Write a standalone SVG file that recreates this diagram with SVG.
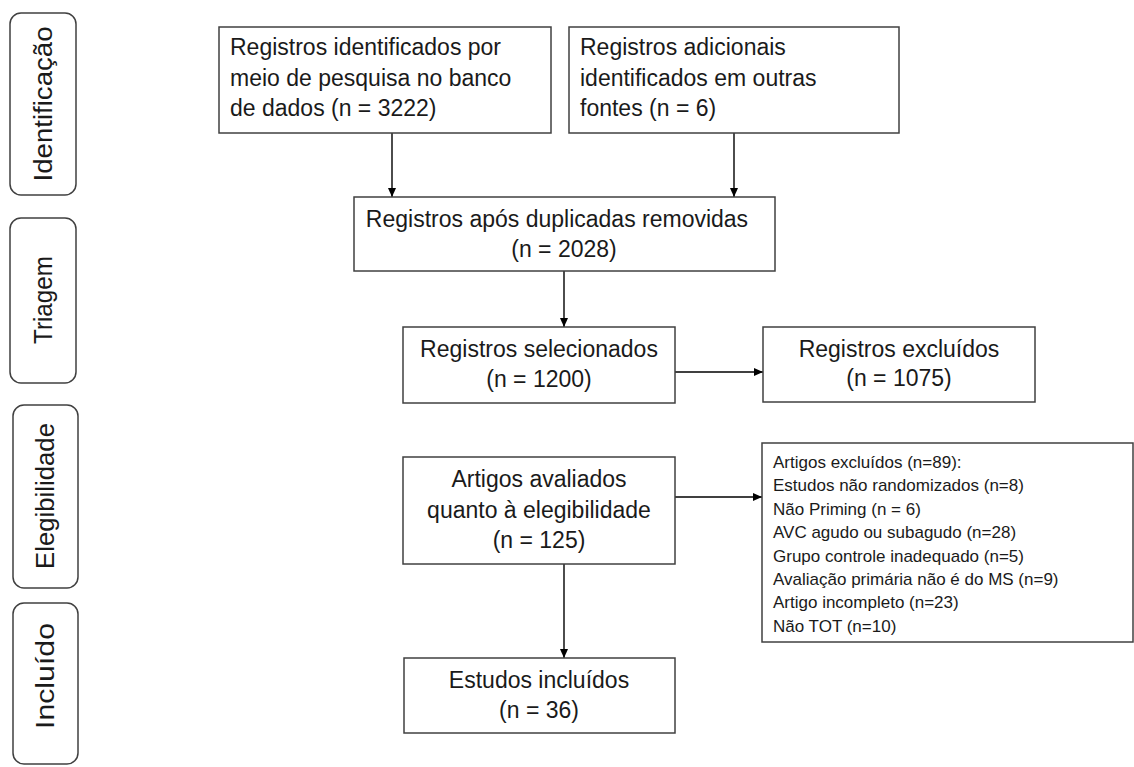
<svg xmlns="http://www.w3.org/2000/svg" width="1134" height="767" viewBox="0 0 1134 767">
<defs>
<marker id="arr" markerWidth="10" markerHeight="10" refX="9" refY="5" orient="auto" markerUnits="userSpaceOnUse">
<path d="M0,1 L9,5 L0,9 Z" fill="#000"/>
</marker>
<style>
.box{fill:#fff;stroke:#404040;stroke-width:1.5}
.side{fill:#fff;stroke:#404040;stroke-width:1.5}
.t{font-family:"Liberation Sans",Arial,sans-serif;font-size:23px;fill:#1a1a1a}
.c{text-anchor:middle}
.s{font-family:"Liberation Sans",Arial,sans-serif;font-size:17px;fill:#1a1a1a}
.lab{font-family:"Liberation Sans",Arial,sans-serif;font-size:26px;fill:#1a1a1a;text-anchor:middle}
.ln{stroke:#000;stroke-width:1.4;fill:none;marker-end:url(#arr)}
</style>
</defs>
<rect width="1134" height="767" fill="#fff"/>

<g id="stage-identificacao">
<rect class="side" x="10" y="13" width="66" height="182" rx="11"/>
<text class="lab" transform="translate(52,104) rotate(-90)" textLength="155" lengthAdjust="spacingAndGlyphs">Identificação</text>
</g>
<g id="stage-triagem">
<rect class="side" x="10" y="218" width="66" height="165" rx="11"/>
<text class="lab" transform="translate(52,300) rotate(-90)" textLength="88" lengthAdjust="spacingAndGlyphs">Triagem</text>
</g>
<g id="stage-elegibilidade">
<rect class="side" x="13" y="405" width="65" height="183" rx="11"/>
<text class="lab" transform="translate(54,496) rotate(-90)" textLength="146" lengthAdjust="spacingAndGlyphs">Elegibilidade</text>
</g>
<g id="stage-incluido">
<rect class="side" x="13" y="603" width="65" height="161" rx="11"/>
<text class="lab" transform="translate(54,676) rotate(-90)" textLength="106" lengthAdjust="spacingAndGlyphs">Incluído</text>
</g>

<g id="connectors">
<line class="ln" x1="392" y1="133" x2="392" y2="197"/>
<line class="ln" x1="734" y1="133" x2="734" y2="197"/>
<line class="ln" x1="564" y1="271" x2="564" y2="327"/>
<line class="ln" x1="675" y1="372" x2="763" y2="372"/>
<line class="ln" x1="675" y1="497" x2="762" y2="497"/>
<line class="ln" x1="564" y1="564" x2="564" y2="658"/>
</g>

<g id="n-database">
<rect class="box" x="219" y="27" width="332" height="106"/>
<text class="t" x="230" y="55">Registros identificados por</text>
<text class="t" x="230" y="85.5">meio de pesquisa no banco</text>
<text class="t" x="230" y="116">de dados (n = 3222)</text>
</g>
<g id="n-other">
<rect class="box" x="569" y="27" width="330" height="106"/>
<text class="t" x="580" y="55">Registros adicionais</text>
<text class="t" x="580" y="85.5">identificados em outras</text>
<text class="t" x="580" y="116">fontes (n = 6)</text>
</g>
<g id="n-dedup">
<rect class="box" x="354" y="197" width="421" height="74"/>
<text class="t c" x="557" y="227">Registros após duplicadas removidas</text>
<text class="t c" x="564" y="257">(n = 2028)</text>
</g>
<g id="n-screened">
<rect class="box" x="403" y="327" width="272" height="76"/>
<text class="t c" x="539" y="357">Registros selecionados</text>
<text class="t c" x="539" y="387">(n = 1200)</text>
</g>
<g id="n-excluded">
<rect class="box" x="763" y="327" width="272" height="75"/>
<text class="t c" x="899" y="357">Registros excluídos</text>
<text class="t c" x="899" y="386">(n = 1075)</text>
</g>
<g id="n-eligibility">
<rect class="box" x="403" y="457" width="272" height="107"/>
<text class="t c" x="539" y="487">Artigos avaliados</text>
<text class="t c" x="539" y="518">quanto à elegibilidade</text>
<text class="t c" x="539" y="548">(n = 125)</text>
</g>
<g id="n-articles-excluded">
<rect class="box" x="762" y="443" width="371" height="199"/>
<text class="s" x="773" y="468">Artigos excluídos (n=89):</text>
<text class="s" x="773" y="491.4">Estudos não randomizados (n=8)</text>
<text class="s" x="773" y="514.8">Não Priming  (n = 6)</text>
<text class="s" x="773" y="538.2">AVC agudo ou subagudo (n=28)</text>
<text class="s" x="773" y="561.6">Grupo controle inadequado (n=5)</text>
<text class="s" x="773" y="585">Avaliação primária não é do MS (n=9)</text>
<text class="s" x="773" y="608.4">Artigo incompleto  (n=23)</text>
<text class="s" x="773" y="631.8">Não TOT (n=10)</text>
</g>
<g id="n-included">
<rect class="box" x="404" y="658" width="271" height="75"/>
<text class="t c" x="539" y="688">Estudos incluídos</text>
<text class="t c" x="539" y="718">(n = 36)</text>
</g>
</svg>
